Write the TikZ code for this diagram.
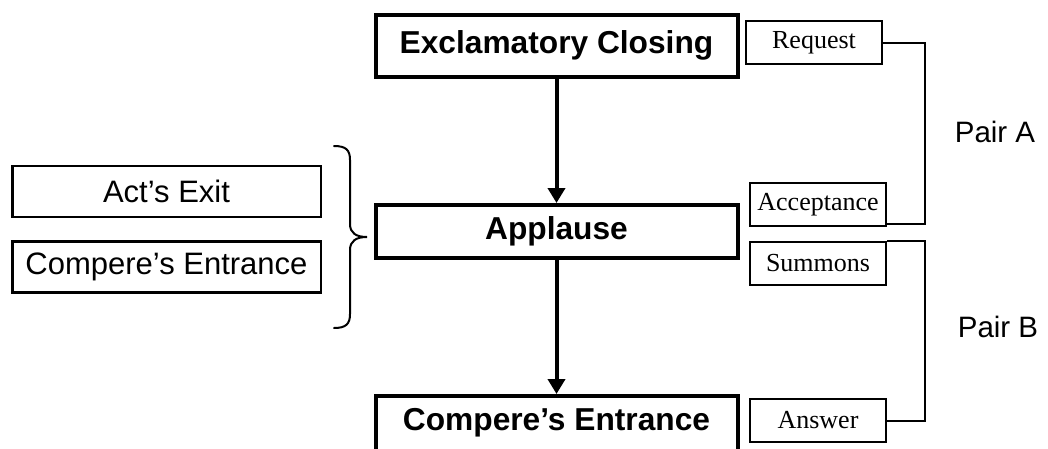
\documentclass[tikz,border=0pt]{standalone}
\usepackage{fontspec}
\setmainfont{Liberation Sans}
\newfontfamily\serifbox{Liberation Serif}
\usetikzlibrary{arrows.meta}
\begin{document}
\begin{tikzpicture}[x=1pt,y=-1pt,
  bigbox/.style={draw, line width=4pt, inner sep=0pt, minimum width=362pt,
    font=\fontsize{31.7}{36}\selectfont\bfseries},
  bigtext/.style={inner sep=0pt, font=\fontsize{31.7}{36}\selectfont\bfseries},
  pairbox/.style={draw, line width=2pt, inner sep=0pt, minimum width=136pt,
    minimum height=43pt, font=\serifbox\fontsize{26}{30}\selectfont},
  sidebox/.style={draw, line width=2.5pt, inner sep=0pt, minimum width=308.5pt,
    minimum height=51pt, font=\fontsize{31}{36}\selectfont},
  pairlabel/.style={inner sep=0pt, font=\fontsize{29.5}{34}\selectfont},
  flow/.style={line width=4pt, -{Triangle[length=15pt,width=17pt]}},
  bracket/.style={line width=2pt},
  curly/.style={line width=2pt, line cap=round}]
\useasboundingbox (0,0) rectangle (1048,448);

% main sequence
\node[bigbox, minimum height=62pt] (ec) at (556.5,45.5) {Exclamatory Closing};
\node[bigbox, minimum height=53pt] (app) at (556.5,231.5) {Applause};
\node[bigbox, minimum height=76pt, anchor=north] (ce) at (556.5,394) {};
\node[bigtext] (cetext) at (556.5,422.5) {Compere’s Entrance};

\draw[flow] (ec) -- (app);
\draw[flow] (app) -- (ce.north);

% adjacency pair parts
\node[pairbox] (req) at (814,42.5) {Request};
\node[pairbox] (acc) at (818,204.5) {Acceptance};
\node[pairbox] (sum) at (818,263) {Summons};
\node[pairbox] (ans) at (818,420.5) {Answer};

\draw[bracket] (req.east) -- ++(42,0) |- ([yshift=3pt]acc.south east);
\draw[bracket] (sum.north east) -- ++(38,0) |- (ans.east);

\node[pairlabel] (pa) at (995,132) {Pair A};
\node[pairlabel] (pb) at (998,327) {Pair B};

% what the applause accomplishes
\node[sidebox] (exit) at (166.5,191.5) {Act’s Exit};
\node[sidebox] (entr) at (166.5,267) {Compere’s Entrance};

\draw[curly] (334,146) .. controls (346,146) and (350,150) .. (350,160)
  -- (350,224) .. controls (350,233) and (356,237) .. (367,237)
  .. controls (356,237) and (350,241) .. (350,250)
  -- (350,314) .. controls (350,324) and (346,328) .. (334,328);
\end{tikzpicture}
\end{document}
